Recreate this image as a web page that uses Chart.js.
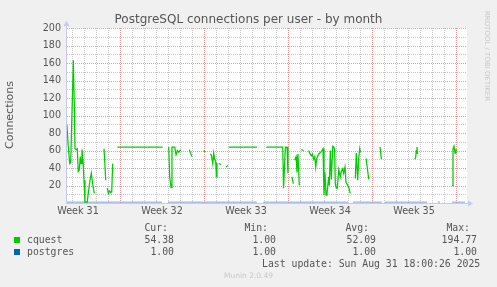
<!DOCTYPE html>
<html>
<head>
<meta charset="utf-8">
<script src="https://cdn.jsdelivr.net/npm/chart.js@4"></script>
<style>
  html, body { margin: 0; padding: 0; background: #f0f0f0; }
  #wrap { position: relative; width: 497px; height: 287px; overflow: hidden; font-family: "DejaVu Sans", sans-serif; color: #555; }
  canvas { position: absolute; left: 0; top: 0; }
  .t { position: absolute; white-space: pre; line-height: 12px; }
  .mono { font-family: "DejaVu Sans Mono", monospace; font-size: 9.8px; }
  .sq { position: absolute; width: 6px; height: 6px; }
</style>
</head>
<body>
<div id="wrap">
  <canvas id="chart" width="497" height="287"></canvas>
  <div class="t" style="left:0;width:497px;top:12px;text-align:center;font-size:12px;line-height:14px">PostgreSQL connections per user - by month</div>
  <div class="t" style="left:10px;top:115px;font-size:11px;transform:translate(-50%,-50%) rotate(-90deg)">Connections</div>
  <div class="t" style="left:487px;top:56px;font-size:7px;color:#c8c8c8;transform:translate(-50%,-50%) rotate(90deg)">RRDTOOL / TOBI OETIKER</div>
  <div id="legend"></div>
  <div class="t mono" style="left:262px;top:258px">Last update: Sun Aug 31 18:00:26 2025</div>
  <div class="t" style="left:0;width:497px;top:270px;text-align:center;font-size:7.5px;color:#c8c8c8">Munin 2.0.49</div>
</div>
<script>
"use strict";

// x values are days, 0 = start of Week 32
const xMin = -4.4167;
const xMax = 28.9167;
const weekLabels = ["Week 31", "Week 32", "Week 33", "Week 34", "Week 35"];
const weekLabelDays = [-3.5, 3.5, 10.5, 17.5, 24.5];
const yLabelValues = [20, 40, 60, 80, 100, 120, 140, 160, 180, 200];

// null = no data
const cquestDays = [
  -4.42, -4.33, -4.19, -4.11, -3.98, -3.89, -3.81, -3.75, -3.64, -3.56, -3.48, -3.39,
  -3.31, -3.25, -3.17, -3.08, -3.00, -2.92, -2.73, -2.61, -2.50, -2.39, -2.28, -2.14, null,
  -1.33, -1.19, null,
  -1.06, -0.97, -0.86, -0.78, -0.69, -0.61, null,
  -0.22, 3.56, null,
  4.06, 4.14, 4.25, 4.33, 4.56, 4.67, 4.78, 4.89, 5.06, null,
  5.78, 5.88, 6.00, null,
  6.98, 7.11, null,
  7.53, 7.61, 7.73, 7.81, 7.89, 7.98, 8.03, 8.08, null,
  8.23, 8.44, null,
  8.83, 9.00, null,
  9.06, 11.42, null,
  12.19, 13.56, 13.63, 13.78, 13.92, 14.00, null,
  14.33, 14.44, null,
  14.56, 14.67, 14.75, 14.83, 14.94, null,
  15.11, 15.31, null,
  15.73, 15.81, 15.94, 16.03, 16.14, 16.23, 16.31, 16.39, 16.56, 16.73, 16.83, 16.92,
  17.00, 17.08, 17.17, 17.25, 17.39, 17.44, 17.53, 17.61, 17.73, 17.83, 17.89, 17.94,
  18.03, 18.11, 18.23, 18.36, 18.44, 18.56, 18.64, 18.75, 18.83, 19.06, 19.19, null,
  19.61, 19.69, 19.81, 19.89, 19.98, 20.03, null,
  20.50, 20.61, 20.73, null,
  21.67, 21.78, null,
  24.56, 24.64, 24.69, 24.75, 24.78, null,
  27.67, 27.75, 27.83, 27.92, 28.00, 28.08
];
const cquestValues = [
  89, 68, 45, 46, 114, 163, 114, 62, 61, 62, 36, 38,
  53, 45, 61, 49, 26, 1, 1, 15, 26, 34, 22, 11, null,
  62, 26, null,
  17, 11, 14, 12, 13, 45, null,
  64, 64, null,
  64, 30, 18, 64, 64, 55, 60, 58, 61, null,
  61, 57, 53, null,
  60, 58, null,
  56, 55, 45, 57, 50, 47, 30, 46, null,
  45, 44, null,
  41, 43, null,
  64, 64, null,
  64, 64, 17, 64, 64, 34, null,
  30, 22, null,
  49, 53, 35, 56, 20, null,
  61, 60, null,
  60, 57, 54, 56, 50, 53, 41, 51, 56, 58, 60, 62,
  9, 35, 9, 11, 30, 20, 60, 27, 65, 64, 60, 22,
  17, 17, 38, 30, 36, 39, 34, 41, 24, 18, 11, null,
  28, 57, 26, 51, 62, 58, null,
  51, 40, 27, null,
  64, 50, null,
  50, 52, 60, 64, 56, null,
  20, 62, 65, 57, 61, 60
];

const postgresDays = [-4.42, 3.50, null, 4.00, 11.39, null, 11.94, 19.00, null, 19.42, 21.81, null,
  22.08, 25.58, null, 26.50, 26.67, null, 27.67, 28.75];
const postgresValues = [1, 1, null, 1, 1, null, 1, 1, null, 1, 1, null,
  1, 1, null, 1, 1, null, 1, 1];

const seriesNames = ["cquest", "postgres"];
const seriesColors = ["#00cc00", "#0066b3"];
const lineColors = ["#00cc00", "#7d9ed8"];
const curValues = ["54.38", "1.00"];
const minValues = ["1.00", "1.00"];
const avgValues = ["52.09", "1.00"];
const maxValues = ["194.77", "1.00"];

const redGrid = "#e99a9a";
const grayGrid = "#c8c8c8";
const axisColor = "#c4caf0";

function toPoints(days, values) {
  return days.map((d, i) => ({ x: d === null ? days[i - 1] : d, y: values[i] }));
}

// legend table under the chart
function buildLegend() {
  const box = document.getElementById("legend");
  const put = (txt, rightEdge, top) => {
    const el = document.createElement("div");
    el.className = "t mono";
    el.style.right = (497 - rightEdge) + "px";
    el.style.top = top + "px";
    el.style.textAlign = "right";
    el.textContent = txt;
    box.appendChild(el);
  };
  put("Cur:", 168, 222);
  put("Min:", 268, 222);
  put("Avg:", 369, 222);
  put("Max:", 470, 222);
  for (let i = 0; i < seriesNames.length; i++) {
    const top = 234 + i * 12;
    const sq = document.createElement("div");
    sq.className = "sq";
    sq.style.left = "14px";
    sq.style.top = (top + 3) + "px";
    sq.style.background = seriesColors[i];
    box.appendChild(sq);
    const name = document.createElement("div");
    name.className = "t mono";
    name.style.left = "27px";
    name.style.top = top + "px";
    name.textContent = seriesNames[i];
    box.appendChild(name);
    put(curValues[i], 174, top);
    put(minValues[i], 276, top);
    put(avgValues[i], 376, top);
    put(maxValues[i], 477, top);
  }
}

const plotBackground = {
  id: "plotBackground",
  beforeDraw(chart) {
    const { ctx, chartArea: a } = chart;
    ctx.save();
    ctx.fillStyle = "#ffffff";
    ctx.fillRect(a.left, a.top, a.right - a.left, a.bottom - a.top);
    ctx.restore();
  }
};

// dotted munin grid: days / weeks on x, 10 / 20 on y
const munGrid = {
  id: "munGrid",
  beforeDatasetsDraw(chart) {
    const { ctx, chartArea: a, scales } = chart;
    ctx.save();
    ctx.lineWidth = 1;
    ctx.setLineDash([1, 1]);
    const line = (x1, y1, x2, y2, color) => {
      ctx.strokeStyle = color;
      ctx.beginPath();
      ctx.moveTo(x1, y1);
      ctx.lineTo(x2, y2);
      ctx.stroke();
    };
    for (let v = 10; v <= 200; v += 10) {
      const y = Math.round(scales.y.getPixelForValue(v)) + 0.5;
      line(a.left, y, a.right, y, v % 20 === 0 ? redGrid : grayGrid);
    }
    for (let d = -4; d <= 28; d++) {
      const x = Math.round(scales.x.getPixelForValue(d)) + 0.5;
      line(x, a.top, x, a.bottom, d % 7 === 0 ? redGrid : grayGrid);
    }
    ctx.setLineDash([]);
    // axes with arrows
    const x0 = a.left - 0.5;
    const y0 = a.bottom + 0.5;
    line(x0, y0, x0, a.top - 4, axisColor);
    line(x0, y0, a.right + 3, y0, axisColor);
    ctx.fillStyle = axisColor;
    ctx.beginPath();
    ctx.moveTo(x0, a.top - 7);
    ctx.lineTo(x0 - 3, a.top - 2);
    ctx.lineTo(x0 + 3, a.top - 2);
    ctx.closePath();
    ctx.fill();
    ctx.beginPath();
    ctx.moveTo(a.right + 6, y0);
    ctx.lineTo(a.right + 1, y0 - 3);
    ctx.lineTo(a.right + 1, y0 + 3);
    ctx.closePath();
    ctx.fill();
    ctx.restore();
  }
};

function renderChart() {
  const canvasElem = document.getElementById("chart");
  const tickFont = { family: "DejaVu Sans", size: 9.6 };

  new Chart(canvasElem, {
    type: "line",
    data: {
      datasets: [
        {
          label: seriesNames[1],
          data: toPoints(postgresDays, postgresValues),
          borderColor: lineColors[1],
          borderWidth: 1,
          pointRadius: 0,
          spanGaps: false,
          order: 2
        },
        {
          label: seriesNames[0],
          data: toPoints(cquestDays, cquestValues),
          borderColor: lineColors[0],
          borderWidth: 1.25,
          pointRadius: 0,
          spanGaps: false,
          order: 1
        }
      ]
    },
    options: {
      responsive: false,
      animation: false,
      devicePixelRatio: 1,
      layout: { padding: { left: 0, top: 28, right: 30, bottom: 0 } },
      plugins: { legend: { display: false }, tooltip: { enabled: false } },
      scales: {
        x: {
          type: "linear",
          min: xMin,
          max: xMax,
          afterBuildTicks(scale) {
            scale.ticks = weekLabelDays.map((v) => ({ value: v }));
          },
          afterFit(scale) { scale.height = 84; },
          grid: { display: false, drawTicks: false },
          border: { display: false },
          ticks: {
            autoSkip: false,
            maxRotation: 0,
            padding: 3,
            color: "#555",
            font: tickFont,
            callback(value) {
              const i = weekLabelDays.indexOf(value);
              return i >= 0 ? weekLabels[i] : "";
            }
          }
        },
        y: {
          min: 0,
          max: 200,
          afterBuildTicks(scale) {
            scale.ticks = yLabelValues.map((v) => ({ value: v }));
          },
          afterFit(scale) { scale.width = 67; },
          grid: { display: false, drawTicks: false },
          border: { display: false },
          ticks: {
            autoSkip: false,
            padding: 6,
            color: "#555",
            font: tickFont
          }
        }
      }
    },
    plugins: [plotBackground, munGrid]
  });
}

buildLegend();
renderChart();
</script>
</body>
</html>
